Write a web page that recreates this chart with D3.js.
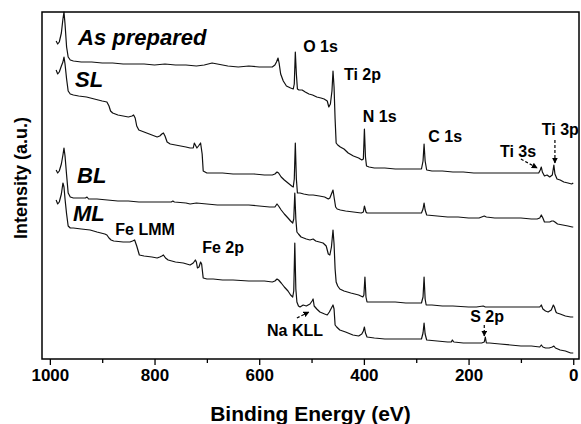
<!DOCTYPE html>
<html>
<head>
<meta charset="utf-8">
<script src="https://cdn.jsdelivr.net/npm/d3@7"></script>
<style>
  html, body { margin: 0; padding: 0; background: #fff; }
  svg text { font-family: "Liberation Sans", Arial, sans-serif; font-weight: bold; fill: #000; }
</style>
</head>
<body>
<script>
// XPS survey spectra, [binding energy (eV), intensity (a.u.)]
const asPrepared = [[988,318],[985,315],[982,317],[978,326],[975,340],[973,347],[971,335],[968,312],[965,302],[961,299],[955,298],[940,297],[920,297],[900,296],[880,296],[860,295],[840,295],[820,295],[800,294],[780,295],[760,294],[740,294],[720,293],[705,294],[690,296],[680,295],[660,293],[640,292],[620,293],[600,292],[585,292],[575,292],[570,294],[567,297],[564,301],[562,296],[559,285],[554,278],[548,273],[540,271],[535,270],[533,275],[531,307],[529,285],[527,270],[524,269],[518,269],[512,267],[505,265],[498,264],[490,262],[482,261],[476,260],[470,258],[467,252],[464,255],[461,268],[459,288],[457,272],[455,240],[453,216],[450,214],[445,212],[438,210],[430,206],[420,203],[410,201],[404,199],[401,200],[399,230],[397,202],[395,193],[390,192],[380,191],[360,191],[340,190],[320,190],[300,190],[290,190],[287,198],[285,215],[283,198],[280,189],[270,188],[250,188],[230,187],[210,187],[190,186],[170,186],[150,186],[130,186],[110,186],[90,186],[75,186],[66,186],[63,189],[61,192],[59,187],[55,183],[50,184],[45,182],[40,184],[37,194],[35,185],[31,180],[25,179],[18,177],[10,176],[3,175],[0,176]];

const slSample = [[988,289],[985,285],[982,287],[978,293],[975,297],[973,302],[971,295],[968,280],[965,268],[961,265],[955,264],[945,263],[930,262],[915,260],[900,258],[891,257],[887,253],[884,248],[880,246],[870,244],[860,243],[850,242],[843,243],[840,244],[837,241],[834,233],[830,229],[820,227],[810,225],[800,223],[795,222],[790,223],[786,225],[783,226],[780,223],[776,217],[770,215],[760,214],[750,213],[740,212],[732,211],[726,211],[724,216],[721,213],[719,211],[716,213],[712,216],[709,205],[707,188],[700,186],[688,186],[670,186],[650,185],[630,185],[610,185],[590,184],[575,184],[570,185],[566,187],[563,186],[558,182],[552,179],[545,176],[538,173],[535,172],[533,180],[531,216],[529,180],[527,166],[522,166],[515,165],[505,164],[497,164],[485,163],[475,162],[468,160],[465,161],[462,165],[459,169],[457,162],[454,152],[451,150],[445,149],[435,148],[420,147],[405,146],[401,147],[399,153],[396,147],[394,146],[380,146],[360,146],[340,146],[320,146],[300,146],[290,146],[287,150],[285,156],[283,149],[280,144],[260,143],[240,142],[220,142],[200,141],[180,141],[170,143],[166,142],[150,141],[120,141],[100,141],[80,140],[69,140],[64,141],[61,144],[58,141],[55,137],[50,137],[45,137],[41,138],[38,138],[35,137],[30,135],[20,134],[10,133],[2,132],[0,132]];

const blSample = [[988,189],[985,186],[982,188],[978,195],[975,204],[973,211],[971,203],[968,184],[965,166],[961,162],[955,161],[945,161],[932,161],[929,162],[926,160],[910,160],[890,159],[870,158],[850,158],[830,157],[807,157],[790,157],[768,157],[765,158],[762,157],[740,156],[732,155],[720,156],[700,155],[680,154],[660,154],[640,154],[620,154],[600,153],[580,152],[570,152],[566,155],[563,153],[558,149],[552,145],[545,141],[540,138],[536,136],[534,140],[532,166],[530,140],[528,127],[525,125],[520,122],[515,121],[510,120],[503,119],[497,120],[492,118],[485,117],[478,116],[472,113],[468,105],[465,104],[462,112],[459,129],[457,115],[455,90],[453,77],[450,73],[446,70],[438,68],[425,66],[410,64],[402,62],[400,64],[398,82],[396,62],[394,57],[380,57],[360,57],[340,57],[320,56],[300,56],[290,56],[287,62],[285,82],[283,60],[281,54],[270,54],[250,53],[230,53],[200,52],[185,52],[172,53],[168,52],[150,52],[120,52],[90,52],[69,52],[64,52],[61,54],[58,50],[53,48],[48,47],[42,49],[38,54],[36,52],[33,47],[31,46],[25,45],[15,43],[5,42],[0,42]];

const mlSample = [[988,159],[985,155],[982,157],[978,165],[975,176],[973,172],[971,160],[968,145],[965,133],[961,131],[955,131],[940,130],[923,129],[910,127],[895,125],[891,124],[887,121],[883,119],[878,118],[860,117],[847,117],[842,118],[838,119],[834,113],[829,104],[820,103],[805,102],[795,101],[790,102],[786,103],[783,104],[779,101],[774,99],[760,97],[745,96],[732,94],[726,96],[722,99],[720,97],[718,91],[715,92],[712,97],[710,95],[707,81],[700,80],[688,80],[670,79],[650,79],[620,78],[590,78],[575,77],[570,78],[566,80],[563,79],[558,76],[552,72],[545,68],[540,64],[536,62],[534,68],[532,116],[530,70],[528,57],[525,53],[522,52],[516,54],[510,53],[503,55],[499,58],[497,60],[495,53],[490,50],[484,47],[475,45],[470,44],[466,47],[462,51],[459,54],[457,50],[455,34],[452,32],[446,29],[435,27],[421,24],[410,23],[404,25],[401,28],[399,32],[397,26],[394,22],[380,21],[360,20],[330,20],[300,20],[290,20],[287,26],[285,36],[283,25],[280,19],[260,18],[240,17],[233,17],[231,19],[228,17],[210,16],[197,16],[185,16],[175,16],[170,17],[168,22],[166,16],[160,16],[140,15],[120,14],[100,13],[80,13],[64,12],[61,14],[58,12],[53,11],[46,11],[40,12],[37,13],[34,11],[25,9],[15,8],[5,6],[0,6]];

const spectra = [asPrepared, slSample, blSample, mlSample];

const energyTicks = [1000, 900, 800, 700, 600, 500, 400, 300, 200, 100, 0];
const labelledTicks = [1000, 800, 600, 400, 200, 0];

// sample names and peak assignments, anchored at [energy, intensity]
const sampleNames = ['As prepared', 'SL', 'BL', 'ML'];
const sampleAnchors = [[946, 314], [952, 272], [948, 176], [956, 138]];
const peakNames = ['O 1s', 'Ti 2p', 'N 1s', 'C 1s', 'Ti 3s', 'Ti 3p', 'Fe LMM', 'Fe 2p', 'Na KLL', 'S 2p'];
const peakAnchors = [[516, 307], [438, 279], [402, 237], [277, 217], [140, 202], [60, 224], [875, 124], [709, 106], [585, 23], [197, 37]];
// dashed pointers: [fromE, fromI, toE, toI]
const pointers = [[100, 200, 69, 191], [35, 219, 35, 196], [528, 41, 505, 47], [170, 34, 170, 23]];

const width = 581;
const height = 424;
const margin = {top: 12, right: 2, bottom: 65, left: 42};

const x = d3.scaleLinear().domain([1015, -11]).range([margin.left, width - margin.right]);
const y = d3.scaleLinear().domain([0, 347]).range([height - margin.bottom, margin.top]);

const svg = d3.select('body').append('svg')
  .attr('width', width)
  .attr('height', height);

const line = d3.line().x(d => x(d[0])).y(d => y(d[1]));

svg.append('g')
  .selectAll('path')
  .data(spectra)
  .enter()
  .append('path')
  .attr('d', line)
  .attr('fill', 'none')
  .attr('stroke', '#111')
  .attr('stroke-width', 1.2)
  .attr('stroke-linejoin', 'round');

// frame
svg.append('rect')
  .attr('x', margin.left)
  .attr('y', margin.top)
  .attr('width', width - margin.right - margin.left)
  .attr('height', height - margin.bottom - margin.top)
  .attr('fill', 'none')
  .attr('stroke', '#000')
  .attr('stroke-width', 1.5);

const xAxis = svg.append('g')
  .attr('transform', `translate(0,${height - margin.bottom})`)
  .call(d3.axisBottom(x)
    .tickValues(energyTicks)
    .tickSize(5)
    .tickSizeOuter(0)
    .tickFormat(d => labelledTicks.includes(d) ? d : ''));

xAxis.select('.domain').remove();
xAxis.selectAll('.tick line').attr('stroke', '#000').attr('stroke-width', 1.3)
  .attr('y2', d => labelledTicks.includes(d) ? 6 : 4);
xAxis.selectAll('.tick text')
  .attr('y', 22)
  .attr('dy', null)
  .style('font-size', '17px');

svg.append('text')
  .attr('x', (margin.left + width - margin.right) / 2)
  .attr('y', 421)
  .attr('text-anchor', 'middle')
  .style('font-size', '21px')
  .text('Binding Energy (eV)');

svg.append('text')
  .attr('transform', 'translate(27,178) rotate(-90)')
  .attr('text-anchor', 'middle')
  .style('font-size', '18px')
  .text('Intensity (a.u.)');

svg.append('g')
  .selectAll('text')
  .data(sampleNames)
  .enter()
  .append('text')
  .attr('x', (d, i) => x(sampleAnchors[i][0]))
  .attr('y', (d, i) => y(sampleAnchors[i][1]))
  .style('font-size', '22px')
  .style('font-style', 'italic')
  .text(d => d);

svg.append('g')
  .selectAll('text')
  .data(peakNames)
  .enter()
  .append('text')
  .attr('x', (d, i) => x(peakAnchors[i][0]))
  .attr('y', (d, i) => y(peakAnchors[i][1]))
  .style('font-size', '16px')
  .text(d => d);

svg.append('defs').append('marker')
  .attr('id', 'head')
  .attr('viewBox', '0 0 10 10')
  .attr('refX', 9)
  .attr('refY', 5)
  .attr('markerWidth', 6)
  .attr('markerHeight', 6)
  .attr('markerUnits', 'userSpaceOnUse')
  .attr('orient', 'auto')
  .append('path')
  .attr('d', 'M0,0L10,5L0,10Z')
  .attr('fill', '#000');

svg.append('g')
  .selectAll('line')
  .data(pointers)
  .enter()
  .append('line')
  .attr('x1', d => x(d[0]))
  .attr('y1', d => y(d[1]))
  .attr('x2', d => x(d[2]))
  .attr('y2', d => y(d[3]))
  .attr('stroke', '#000')
  .attr('stroke-width', 1.2)
  .attr('stroke-dasharray', '3,2')
  .attr('marker-end', 'url(#head)');
</script>
</body>
</html>
